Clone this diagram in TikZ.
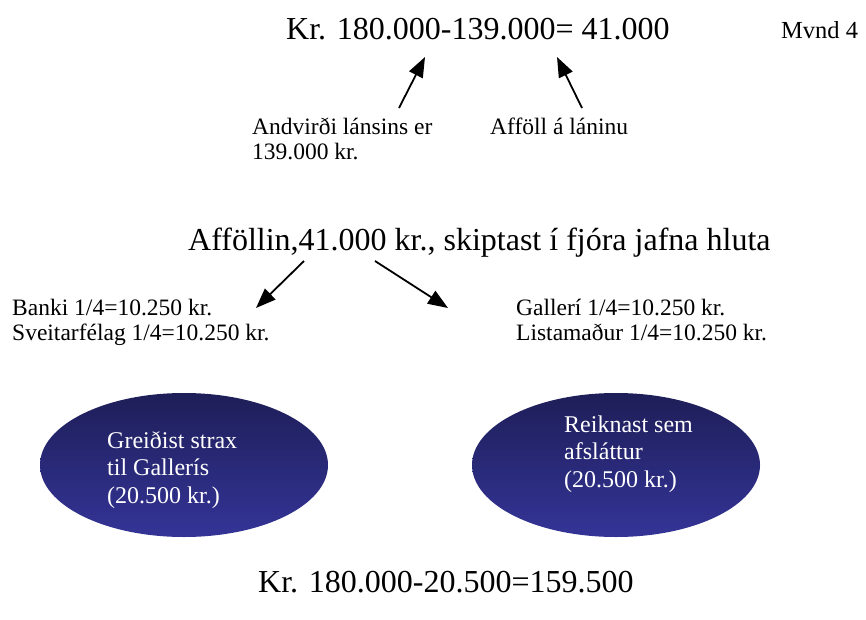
\documentclass[tikz,border=0pt]{standalone}
\usepackage{fontspec}
\setmainfont{Liberation Serif}
\usetikzlibrary{shapes.geometric, arrows.meta, positioning}
\definecolor{ovaltop}{RGB}{30,30,88}
\definecolor{ovalbot}{RGB}{52,52,152}

\tikzset{
  big/.style={font=\fontsize{32}{38}\selectfont, inner sep=0pt, anchor=base west},
  small/.style={font=\fontsize{23.5}{25}\selectfont, inner sep=0pt, align=left, anchor=base west},
  oval/.style={ellipse, minimum width=288pt, minimum height=144pt, top color=ovaltop, bottom color=ovalbot, inner sep=0pt},
  ovaltext/.style={small, font=\fontsize{24}{27.5}\selectfont, text=white},
  pointer/.style={-{Triangle[length=20pt,width=15pt]}, line width=1.8pt},
}

\begin{document}
\begin{tikzpicture}[x=1pt, y=-1pt]
  \useasboundingbox (0,0) rectangle (866,620);
  % subtraction
  \node[big] (sum) at (286,40) {Kr. 180.000-139.000= 41.000};
  \node[small, font=\fontsize{24.5}{27}\selectfont] (fig) at (781,39) {Mvnd 4};
  \node[small] (value) at (252,160) {Andvirði lánsins er\\139.000 kr.};
  \node[small] (loss) at (490,135) {Afföll á láninu};
  \coordinate (valuetail) at (399,108);
  \coordinate (valuetip) at (425,57);
  \coordinate (losstail) at (582,108);
  \coordinate (losstip) at (557,57);
  \draw[pointer] (valuetail) -- (valuetip);
  \draw[pointer] (losstail) -- (losstip);
  % split in four
  \node[big] (split) at (188,250) {Afföllin,41.000 kr., skiptast í fjóra jafna hluta};
  \node[small] (bank) at (12,340) {Banki 1/4=10.250 kr.\\Sveitarfélag 1/4=10.250 kr.};
  \node[small] (gallery) at (516,340) {Gallerí 1/4=10.250 kr.\\Listamaður 1/4=10.250 kr.};
  \coordinate (banktail) at (304,261);
  \coordinate (banktip) at (256,308);
  \coordinate (gallerytail) at (375,261);
  \coordinate (gallerytip) at (448,308);
  \draw[pointer] (banktail) -- (banktip);
  \draw[pointer] (gallerytail) -- (gallerytip);
  % ovals
  \node[oval] (paid) at (184,465) {};
  \node[oval] (discount) at (616,465) {};
  \node[ovaltext] (paidtext) at (107,503) {Greiðist strax\\til Gallerís\\(20.500 kr.)};
  \node[ovaltext] (discounttext) at (564,487) {Reiknast sem\\afsláttur\\(20.500 kr.)};
  \node[big] (result) at (258,592) {Kr. 180.000-20.500=159.500};
\end{tikzpicture}
\end{document}
